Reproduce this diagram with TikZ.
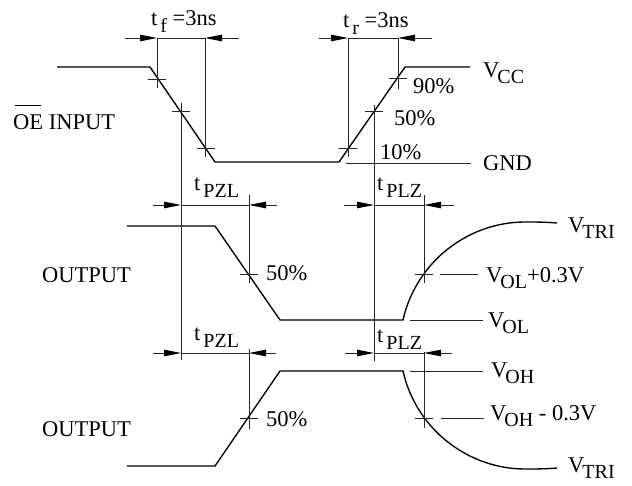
\documentclass[tikz,border=0pt]{standalone}
\usepackage{fontspec}
\setmainfont{Liberation Serif}
\usetikzlibrary{arrows.meta}

\newcommand{\tsub}[1]{t\kern3pt\raisebox{-7pt}{\fontsize{20}{22}\selectfont #1}}
\newcommand{\vsub}[1]{V\kern-2pt\raisebox{-6pt}{\fontsize{20}{22}\selectfont #1}}

\tikzset{
	lbl/.style={anchor=base west, inner sep=0pt, font=\fontsize{22.5}{24}\selectfont},
	wave/.style={line width=1.35pt, line join=miter},
	thin line/.style={line width=0.9pt, black!85},
	dimtip/.style={thin line, -{Triangle[length=17pt,width=6.5pt,black]}}
}

\begin{document}
\begin{tikzpicture}[x=1pt, y=-1pt]
	\useasboundingbox (0,0) rectangle (632,485);
	
	% Draw waveforms
	\draw[wave] (57,67) -- (150,67) -- (215,162) -- (339,162) -- (405,67) -- (470,67);
	\draw[wave] (127,226) -- (215,226) -- (280,320) -- (403,320)
		.. controls (416,262) and (468,222) .. (525,222)
		.. controls (535,222) and (545,222) .. (557,223);
	\draw[wave] (127,466) -- (215,466) -- (280,371) -- (403,371)
		.. controls (416,429) and (468,469) .. (525,469)
		.. controls (535,469) and (545,469) .. (557,468);
	
	% Draw vertical lines
	\foreach \x/\ya/\yb in {157/38/88, 181/103/360, 205/38/157, 348/38/157, 374/105/361, 398/38/89, 249/195/283, 424/195/283, 249/349/429, 424/352/428}
	\draw[thin line] (\x,\ya) -- (\x,\yb);
	
	% Draw tick marks
	\foreach \x/\y in {157/79, 181/111, 206/148, 348/148, 374/111, 398/78, 249/274, 249/418, 424/274, 424/418}
	\draw[thin line] (\x-9,\y) -- (\x+9,\y);
	
	% Draw level lines
	\draw[thin line] (346,163) -- (471,163);
	\draw[thin line] (440,274) -- (478,274);
	\draw[thin line] (410,320) -- (483,320);
	\draw[thin line] (410,371) -- (483,371);
	\draw[thin line] (441,418) -- (484,418);
	
	% Draw dimension arrows
	\foreach \xa/\xb/\xc/\xd/\y in {125/157/205/239/38, 319/348/398/432/38, 153/181/249/277/205, 344/374/424/454/205, 153/181/249/276/353, 345/374/424/452/353}
	{
		\draw[thin line] (\xb,\y) -- (\xc,\y);
		\draw[dimtip] (\xa,\y) -- (\xb,\y);
		\draw[dimtip] (\xd,\y) -- (\xc,\y);
	}
	
	% Label times
	\node[lbl] (tfall) at (151,25) {\tsub{f} =3ns};
	\node[lbl] (trise) at (343,27) {\tsub{r} =3ns};
	\node[lbl] (tpzlup) at (194,190) {\tsub{PZL}};
	\node[lbl] (tplzup) at (377,190) {\tsub{PLZ}};
	\node[lbl] (tpzldown) at (194,340) {\tsub{PZL}};
	\node[lbl] (tplzdown) at (377,342) {\tsub{PLZ}};
	
	% Label signals
	\node[lbl] (oeinput) at (13,129) {OE INPUT};
	\draw[line width=0.8pt] (15,105) -- (41,105);
	\node[lbl] (outup) at (42,282) {OUTPUT};
	\node[lbl] (outdown) at (42,436) {OUTPUT};
	
	% Label percentages
	\node[lbl] (pctninety) at (413,93) {90\%};
	\node[lbl] (pctfifty) at (394,125) {50\%};
	\node[lbl] (pctten) at (380,159) {10\%};
	\node[lbl] (pctup) at (266,280) {50\%};
	\node[lbl] (pctdown) at (266,426) {50\%};
	
	% Label levels
	\node[lbl] (vcc) at (483,77) {\vsub{CC}};
	\node[lbl] (gnd) at (483,170) {GND};
	\node[lbl] (vtriup) at (568,232) {\vsub{TRI}};
	\node[lbl] (volplus) at (486,282) {\vsub{OL}+0.3V};
	\node[lbl] (vol) at (488,327) {\vsub{OL}};
	\node[lbl] (voh) at (491,377) {\vsub{OH}};
	\node[lbl] (vohminus) at (490,420) {\vsub{OH} - 0.3V};
	\node[lbl] (vtridown) at (568,472) {\vsub{TRI}};
	
\end{tikzpicture}
\end{document}
